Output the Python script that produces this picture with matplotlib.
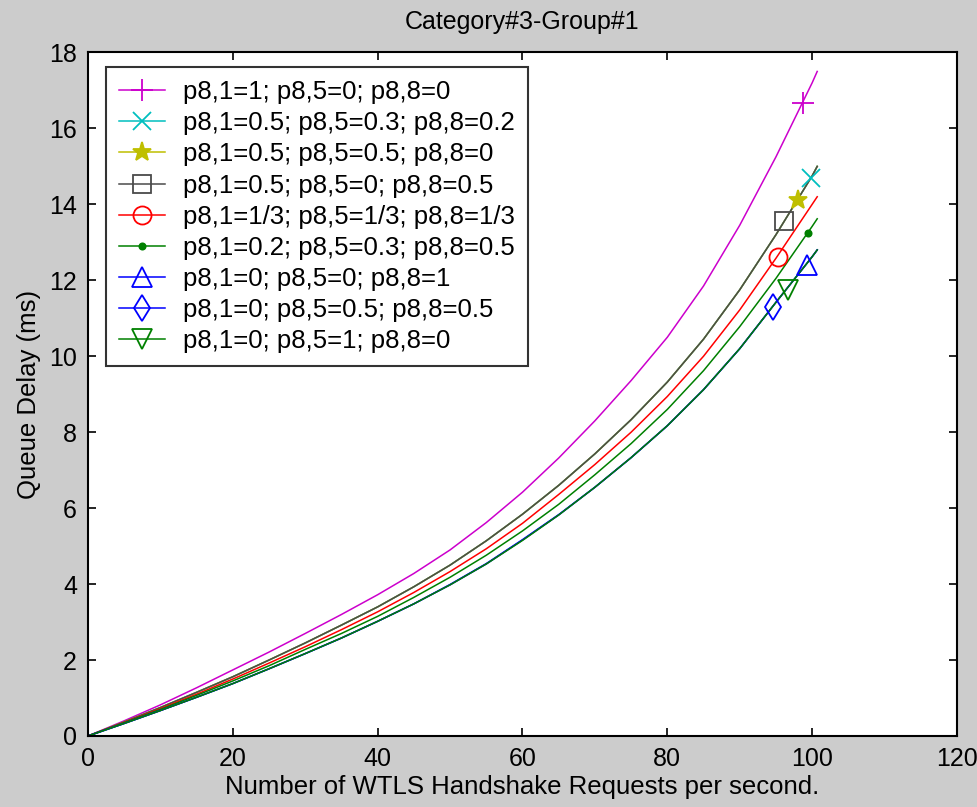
import matplotlib
matplotlib.use('Agg')
import matplotlib.pyplot as plt
from matplotlib.lines import Line2D

# requests per second (common x grid for every curve)
requests = [0, 5, 10, 15, 20, 25, 30, 35, 40, 45, 50, 55, 60, 65, 70, 75, 80,
            85, 90, 95, 100, 100.7]

# queue delay (ms), one list per probability mix
delay_1_0_0 = [0, 0.40, 0.82, 1.27, 1.74, 2.21, 2.70, 3.20, 3.72, 4.28, 4.90,
               5.62, 6.42, 7.32, 8.30, 9.36, 10.50, 11.85, 13.45, 15.25, 17.20, 17.50]
delay_05_03_02 = [0, 0.37, 0.75, 1.15, 1.56, 2.00, 2.45, 2.92, 3.40, 3.93, 4.50,
                  5.14, 5.84, 6.60, 7.43, 8.33, 9.32, 10.45, 11.75, 13.20, 14.75, 15.00]
delay_05_05_0 = [0, 0.37, 0.75, 1.15, 1.56, 2.00, 2.45, 2.92, 3.40, 3.93, 4.50,
                 5.14, 5.84, 6.60, 7.43, 8.33, 9.32, 10.45, 11.75, 13.20, 14.75, 15.00]
delay_05_0_05 = [0, 0.37, 0.75, 1.15, 1.56, 2.00, 2.45, 2.92, 3.40, 3.93, 4.50,
                 5.14, 5.84, 6.60, 7.43, 8.33, 9.32, 10.45, 11.75, 13.20, 14.75, 15.00]
delay_third = [0, 0.36, 0.72, 1.10, 1.50, 1.92, 2.35, 2.80, 3.27, 3.78, 4.33,
               4.93, 5.60, 6.36, 7.15, 8.00, 8.94, 10.00, 11.22, 12.58, 14.00, 14.20]
delay_02_03_05 = [0, 0.35, 0.70, 1.07, 1.45, 1.85, 2.28, 2.70, 3.15, 3.65, 4.18,
                  4.76, 5.40, 6.10, 6.88, 7.70, 8.60, 9.62, 10.78, 12.05, 13.42, 13.62]
delay_0_0_1 = [0, 0.33, 0.67, 1.02, 1.38, 1.77, 2.17, 2.58, 3.02, 3.48, 3.99,
               4.54, 5.17, 5.83, 6.55, 7.33, 8.17, 9.12, 10.20, 11.42, 12.62, 12.80]
delay_0_05_05 = [0, 0.33, 0.67, 1.02, 1.38, 1.77, 2.17, 2.58, 3.02, 3.48, 3.98,
                 4.53, 5.16, 5.82, 6.55, 7.33, 8.17, 9.12, 10.20, 11.42, 12.62, 12.80]
delay_0_1_0 = [0, 0.33, 0.67, 1.02, 1.38, 1.77, 2.17, 2.58, 3.02, 3.48, 3.98,
               4.53, 5.15, 5.82, 6.55, 7.33, 8.17, 9.12, 10.20, 11.42, 12.62, 12.80]

labels = ['p8,1=1; p8,5=0; p8,8=0',
          'p8,1=0.5; p8,5=0.3; p8,8=0.2',
          'p8,1=0.5; p8,5=0.5; p8,8=0',
          'p8,1=0.5; p8,5=0; p8,8=0.5',
          'p8,1=1/3; p8,5=1/3; p8,8=1/3',
          'p8,1=0.2; p8,5=0.3; p8,8=0.5',
          'p8,1=0; p8,5=0; p8,8=1',
          'p8,1=0; p8,5=0.5; p8,8=0.5',
          'p8,1=0; p8,5=1; p8,8=0']

# where each curve carries its single marker
marker_x = [98.7, 99.8, 98.1, 96.1, 95.3, 99.4, 99.3, 94.6, 96.7]
marker_y = [16.68, 14.70, 14.12, 13.55, 12.62, 13.25, 12.41, 11.30, 11.75]

curves = [delay_1_0_0, delay_05_03_02, delay_05_05_0, delay_05_0_05, delay_third,
          delay_02_03_05, delay_0_0_1, delay_0_05_05, delay_0_1_0]
colors = ['#cc00cc', '#00bfbf', '#bfbf00', '#4a4a4a', '#ff0000',
          '#008000', '#0000ff', '#0000ff', '#008000']
markers = ['+', 'x', '*', 's', 'o', '.', '^', 'd', 'v']
msizes = [16, 13, 14, 13, 13, 9, 14, 13, 14]

plt.rcParams['font.family'] = ['Liberation Sans', 'DejaVu Sans']

fig = plt.figure(figsize=(9.78, 8.07), dpi=100, facecolor='#cccccc')
ax = fig.add_axes([0.090, 0.088, 0.8885, 0.847])
ax.set_facecolor('white')

for ys, c in zip(curves, colors):
    ax.plot(requests, ys, color=c, lw=1.1)
for mx, my, c, m, s in zip(marker_x, marker_y, colors, markers, msizes):
    ax.plot([mx], [my], linestyle='none', marker=m, color=c, ms=s,
            mfc='none' if m not in ('.', '+', 'x', '*') else c, mew=1.3)

handles = [Line2D([], [], color=c, lw=1.1, marker=m, ms=s, mew=1.3,
                  mfc='none' if m not in ('.', '+', 'x', '*') else c)
           for c, m, s in zip(colors, markers, msizes)]
leg = ax.legend(handles, labels, loc='upper left', bbox_to_anchor=(0.0204, 0.9786),
                borderaxespad=0, fontsize=18.5, frameon=True, fancybox=False,
                edgecolor='black', handlelength=1.8, labelspacing=0.28,
                handletextpad=0.7, borderpad=0.5)
leg.get_frame().set_linewidth(1.5)

ax.set_xlim(0, 120)
ax.set_ylim(0, 18)
ax.set_xticks(range(0, 121, 20))
ax.set_yticks(range(0, 19, 2))
ax.tick_params(direction='in', length=6, width=1.2, labelsize=18, pad=8,
               top=True, right=True)
for sp in ax.spines.values():
    sp.set_linewidth(1.5)

ax.set_title('Category#3-Group#1', fontsize=18, pad=17)
ax.set_xlabel('Number of WTLS Handshake Requests per second.', fontsize=18.5, labelpad=3)
ax.set_ylabel('Queue Delay (ms)', fontsize=18.5, labelpad=6)

fig.savefig('out.png', dpi=100, facecolor=fig.get_facecolor())
